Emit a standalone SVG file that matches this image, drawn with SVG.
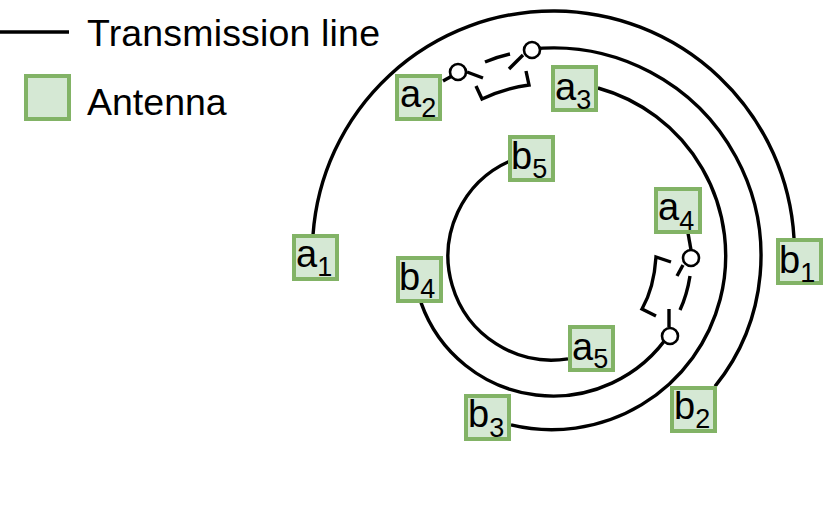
<svg xmlns="http://www.w3.org/2000/svg" width="830" height="527" viewBox="0 0 830 527">
<style>
.l{fill:none;stroke:#000;stroke-width:3.4}
.b{fill:#d5e8d4;stroke:#82b366;stroke-width:4}
.j{fill:#fff;stroke:#000;stroke-width:2.6}
text{font-family:"Liberation Sans",Arial,sans-serif;font-size:37.5px;fill:#000}
.t{font-size:38px}
.s{font-size:27px}
</style>
<rect width="830" height="527" fill="#fff"/>
<g id="connectors">
<path class="l" d="M0 32H69"/>
<path class="l" d="M313 235A241 241 0 0 1 794 238"/>
<path class="l" d="M532 49A208 208 0 0 1 715 386.4"/>
<path class="l" d="M598 88A174 174 0 0 1 511 424.9"/>
<path class="l" d="M670 333A140 140 0 0 1 421 302.6"/>
<path class="l" d="M568 358.9A104 104 0 0 1 510 161"/>
<path class="l" d="M443 81L452 76"/>
<path class="l" d="M467 72L483 78"/>
<path class="l" d="M485 62Q497 57 510 54"/>
<path class="l" d="M509 69L523 55"/>
<path class="l" d="M476 86L482 99Q505 88 529 85L526 71"/>
<path class="l" d="M688 233L691 250"/>
<path class="l" d="M683 265L677 276"/>
<path class="l" d="M690 276Q687 295 680 310"/>
<path class="l" d="M669 309V327"/>
<path class="l" d="M671 262L656 257Q654 288 642 309L656 316"/>
</g>
<g id="j1"><circle class="j" cx="458" cy="72" r="8"/></g>
<g id="j2"><circle class="j" cx="532" cy="50" r="8"/></g>
<g id="j3"><circle class="j" cx="691" cy="258" r="8"/></g>
<g id="j4"><circle class="j" cx="670" cy="336" r="8"/></g>
<g id="legend-line"><text x="87" y="46" textLength="293">Transmission line</text></g>
<g id="legend-antenna"><rect class="b" x="26" y="76" width="43" height="43"/><text x="87" y="115">Antenna</text></g>
<g id="a1"><rect class="b" x="294" y="236" width="43" height="43"/><text class="t" x="296" y="267">a<tspan class="s" y="276">1</tspan></text></g>
<g id="a2"><rect class="b" x="397" y="76" width="43" height="43"/><text class="t" x="400" y="107">a<tspan class="s" y="117">2</tspan></text></g>
<g id="a3"><rect class="b" x="553" y="67" width="43" height="43"/><text class="t" x="555" y="100">a<tspan class="s" y="109">3</tspan></text></g>
<g id="a4"><rect class="b" x="656" y="189" width="44" height="43"/><text class="t" x="658" y="220">a<tspan class="s" y="230">4</tspan></text></g>
<g id="a5"><rect class="b" x="570" y="327" width="43" height="43"/><text class="t" x="572" y="360">a<tspan class="s" y="368">5</tspan></text></g>
<g id="b1"><rect class="b" x="778" y="240" width="43" height="43"/><text class="t" x="779" y="273">b<tspan class="s" y="282">1</tspan></text></g>
<g id="b2"><rect class="b" x="672" y="388" width="43" height="43"/><text class="t" x="674" y="419">b<tspan class="s" y="428">2</tspan></text></g>
<g id="b3"><rect class="b" x="466" y="396" width="43" height="43"/><text class="t" x="468" y="427">b<tspan class="s" y="437">3</tspan></text></g>
<g id="b4"><rect class="b" x="398" y="258" width="43" height="43"/><text class="t" x="399" y="290">b<tspan class="s" y="298">4</tspan></text></g>
<g id="b5"><rect class="b" x="510" y="137" width="43" height="43"/><text class="t" x="511" y="169">b<tspan class="s" y="178">5</tspan></text></g>
</svg>
